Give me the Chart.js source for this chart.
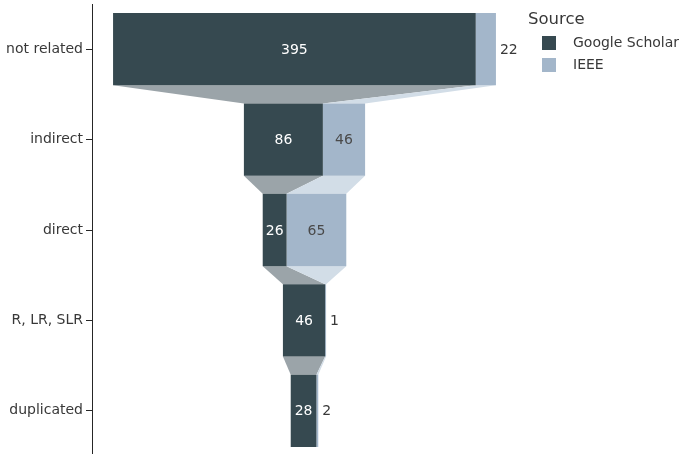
<!DOCTYPE html>
<html>
<head>
<meta charset="utf-8">
<script src="https://cdn.jsdelivr.net/npm/chart.js@4"></script>
<style>
  html, body { margin: 0; padding: 0; background: #fff; overflow: hidden; }
  #wrap { width: 680px; height: 458px; position: relative; }
</style>
</head>
<body>
<div id="wrap"><canvas id="c" width="680" height="458"></canvas></div>
<script>
// Funnel stages, top to bottom
const stages = ['not related', 'indirect', 'direct', 'R, LR, SLR', 'duplicated'];
// Paper counts per source
const scholar = [395, 86, 26, 46, 28];
const ieee = [22, 46, 65, 1, 2];
const sourceNames = ['Google Scholar', 'IEEE'];
const legendTitle = 'Source';

const barColors = ['#364950', '#a3b6ca'];
const connectorColors = ['#9ba4a9', '#d2dde7'];
const insideLabelColors = ['#ffffff', '#4a4a4a'];
const textColor = '#383838';
const axisColor = '#262626';
const fontFamily = 'Verdana, "DejaVu Sans", sans-serif';

// Each stage is centred on zero: Google Scholar on the left, IEEE stacked after it
const totals = stages.map((_, i) => scholar[i] + ieee[i]);
const scholarSpan = stages.map((_, i) => [-totals[i] / 2, -totals[i] / 2 + scholar[i]]);
const ieeeSpan = stages.map((_, i) => [-totals[i] / 2 + scholar[i], totals[i] / 2]);
const seriesValues = [scholar, ieee];
const halfRange = Math.max(...totals) / 2 * 1.11;

// Trapezoids joining each stage to the next one, per source
const funnelConnectors = {
  id: 'funnelConnectors',
  beforeDatasetsDraw(chart) {
    const ctx = chart.ctx;
    ctx.save();
    chart.data.datasets.forEach((ds, d) => {
      const bars = chart.getDatasetMeta(d).data;
      for (let i = 0; i < bars.length - 1; i++) {
        const a = bars[i], b = bars[i + 1];
        const aBottom = a.y + a.height / 2;
        const bTop = b.y - b.height / 2;
        ctx.beginPath();
        ctx.moveTo(Math.min(a.base, a.x), aBottom);
        ctx.lineTo(Math.max(a.base, a.x), aBottom);
        ctx.lineTo(Math.max(b.base, b.x), bTop);
        ctx.lineTo(Math.min(b.base, b.x), bTop);
        ctx.closePath();
        ctx.fillStyle = connectorColors[d];
        ctx.fill();
      }
    });
    ctx.restore();
  }
};

// Value labels: inside the bar when they fit, otherwise just to its right
const funnelLabels = {
  id: 'funnelLabels',
  afterDatasetsDraw(chart) {
    const ctx = chart.ctx;
    ctx.save();
    ctx.font = '14px ' + fontFamily;
    ctx.textBaseline = 'middle';
    chart.data.datasets.forEach((ds, d) => {
      const bars = chart.getDatasetMeta(d).data;
      bars.forEach((bar, i) => {
        const text = String(seriesValues[d][i]);
        const left = Math.min(bar.base, bar.x);
        const right = Math.max(bar.base, bar.x);
        const w = ctx.measureText(text).width;
        if (w + 4 <= right - left) {
          ctx.textAlign = 'center';
          ctx.fillStyle = insideLabelColors[d];
          ctx.fillText(text, (left + right) / 2, bar.y + 1);
        } else {
          ctx.textAlign = 'left';
          ctx.fillStyle = textColor;
          ctx.fillText(text, right + 4, bar.y + 1);
        }
      });
    });
    ctx.restore();
  }
};

// Legend with a title, to the right of the funnel
const sourceLegend = {
  id: 'sourceLegend',
  afterDraw(chart) {
    const ctx = chart.ctx;
    ctx.save();
    ctx.textBaseline = 'middle';
    ctx.textAlign = 'left';
    ctx.fillStyle = textColor;
    ctx.font = '16.5px ' + fontFamily;
    ctx.fillText(legendTitle, 528, 20);
    ctx.font = '14px ' + fontFamily;
    sourceNames.forEach((name, k) => {
      const cy = 43 + k * 22;
      ctx.fillStyle = barColors[k];
      ctx.fillRect(542, cy - 7, 14, 14);
      ctx.fillStyle = textColor;
      ctx.fillText(name, 573, cy);
    });
    ctx.restore();
  }
};

new Chart(document.getElementById('c'), {
  type: 'bar',
  data: {
    labels: stages,
    datasets: [
      { label: sourceNames[0], data: scholarSpan, backgroundColor: barColors[0] },
      { label: sourceNames[1], data: ieeeSpan, backgroundColor: barColors[1] }
    ]
  },
  options: {
    indexAxis: 'y',
    responsive: false,
    animation: false,
    devicePixelRatio: 1,
    datasets: {
      bar: { grouped: false, categoryPercentage: 0.8, barPercentage: 1, borderWidth: 0 }
    },
    layout: { padding: { top: 4, right: 163, bottom: 2, left: 0 } },
    plugins: { legend: { display: false }, tooltip: { enabled: false } },
    scales: {
      x: { display: false, min: -halfRange, max: halfRange },
      y: {
        offset: true,
        grid: { display: true, offset: false, drawOnChartArea: false, tickLength: 6, tickColor: axisColor, tickWidth: 1 },
        border: { display: true, color: axisColor, width: 1 },
        ticks: { color: textColor, padding: 3, font: { family: fontFamily, size: 14 } },
        afterFit(scale) {
          scale.width = 92;
          scale.paddingTop = 0;
          scale.paddingBottom = 0;
        }
      }
    }
  },
  plugins: [funnelConnectors, funnelLabels, sourceLegend]
});
</script>
</body>
</html>
